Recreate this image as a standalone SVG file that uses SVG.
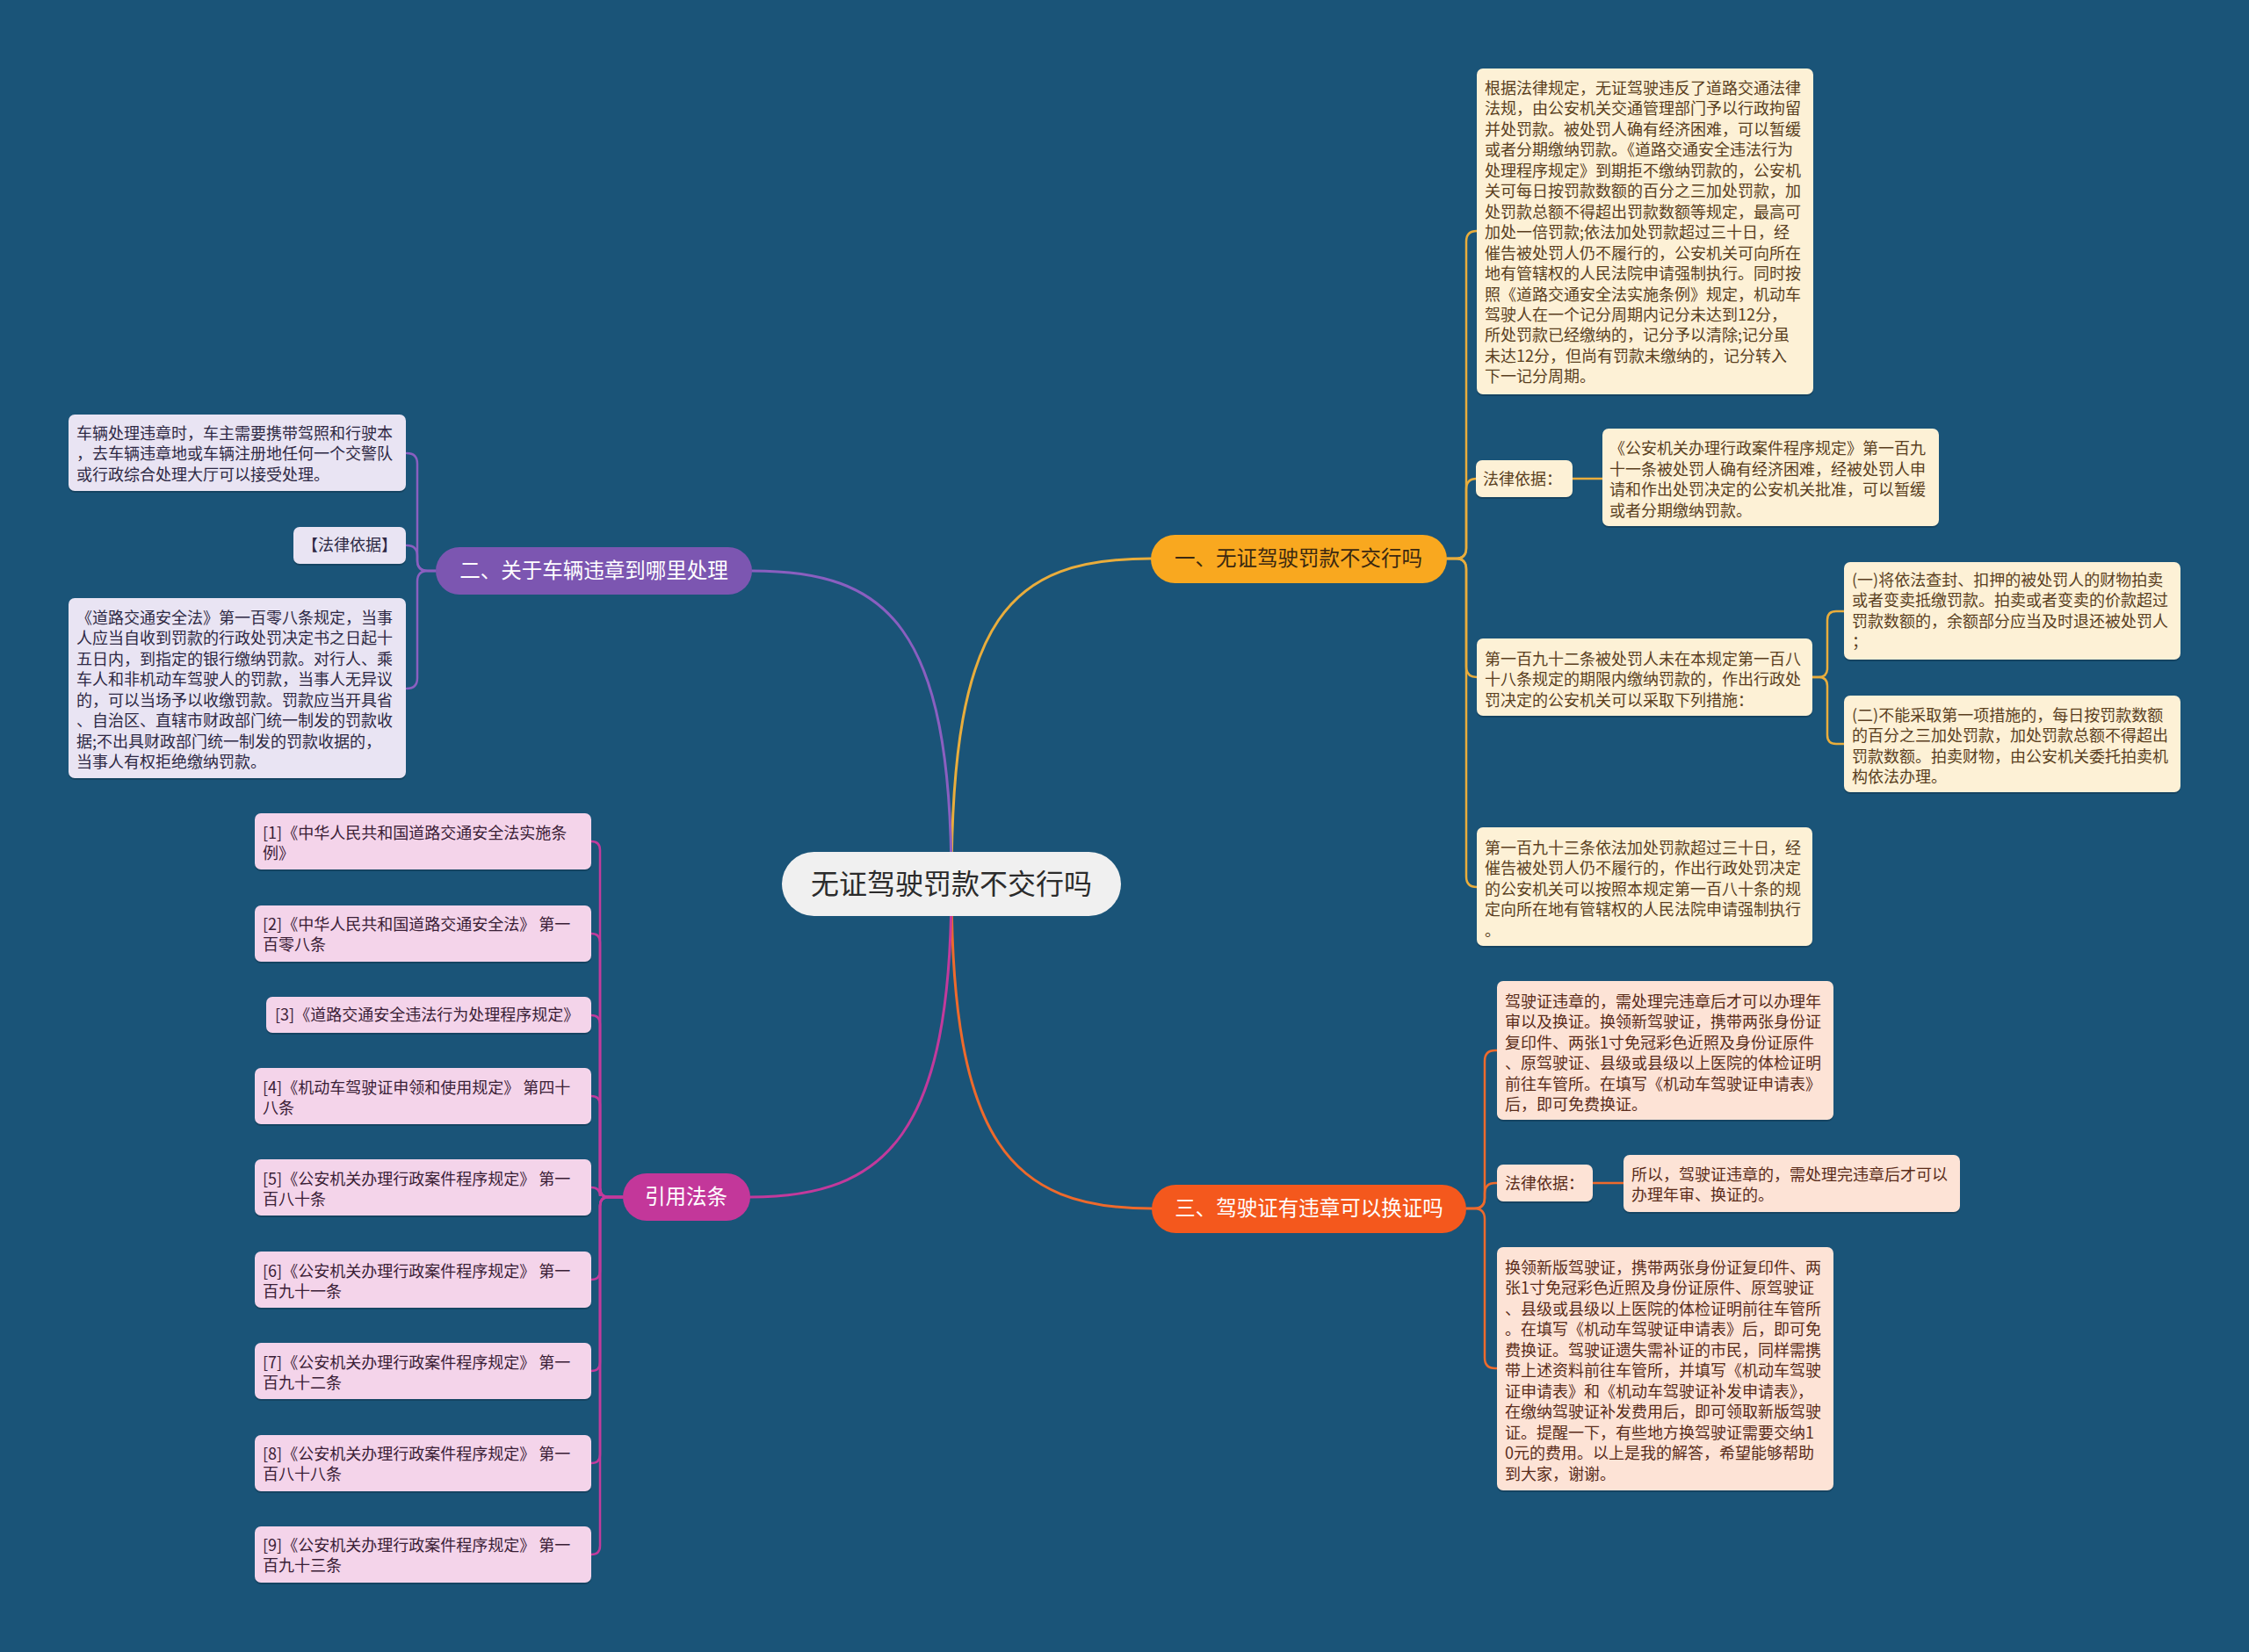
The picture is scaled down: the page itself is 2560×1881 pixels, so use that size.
<svg xmlns="http://www.w3.org/2000/svg" width="2560" height="1881" viewBox="0 0 2560 1881">
<defs>
<style>
text{font-family:"Noto Sans CJK SC","Noto Sans",sans-serif;}
.bg{fill:#1a5478;}
.c{fill:none;stroke-linecap:round;}
.c1{stroke:#e9ad3c;}
.c2{stroke:#8a5fc0;}
.c3{stroke:#ee6a2c;}
.c4{stroke:#c23a9c;}
.main{stroke-width:3;}
.sub{stroke-width:2.5;}
.shadow{fill:#000;opacity:0.18;}
.l1{fill:#fdf1d6;}
.l2{fill:#e9e4f3;}
.l3{fill:#fde3d6;}
.l4{fill:#f4d4ea;}
.t{font-size:18px;}
.t1{fill:#5a3f1e;}
.t2{fill:#2e2944;}
.t3{fill:#5a2c1a;}
.t4{fill:#3a2036;}
.bt{font-size:23.5px;text-anchor:middle;}
</style>
</defs>
<rect class="bg" x="0" y="0" width="2560" height="1881"/>

<g id="connectors">
<path class="c c1 main" d="M1083,1006 C1083,700 1150,636 1310,636"/>
<path class="c c2 main" d="M1083,1006 C1083,712 1010,650 856,650"/>
<path class="c c3 main" d="M1083,1006 C1083,1300 1150,1376 1311,1376"/>
<path class="c c4 main" d="M1083,1006 C1083,1290 1010,1363 854,1363"/>

<path class="c c1 sub" d="M1647,636 H1657 Q1669,636 1669,624 V275 Q1669,263 1681,263"/>
<path class="c c1 sub" d="M1647,636 H1657 Q1669,636 1669,624 V557 Q1669,545 1681,545"/>
<path class="c c1 sub" d="M1647,636 H1657 Q1669,636 1669,648 V759 Q1669,771 1681,771"/>
<path class="c c1 sub" d="M1647,636 H1657 Q1669,636 1669,648 V998 Q1669,1010 1681,1010"/>
<path class="c c1 sub" d="M1790,545 H1824"/>
<path class="c c1 sub" d="M2063,771 H2070 Q2080,771 2080,761 V706 Q2080,696 2090,696 H2099"/>
<path class="c c1 sub" d="M2063,771 H2070 Q2080,771 2080,781 V837 Q2080,847 2090,847 H2099"/>

<path class="c c2 sub" d="M496,650 H487 Q475,650 475,638 V528 Q475,516 463,516"/>
<path class="c c2 sub" d="M496,650 H487 Q475,650 475,638 V633 Q475,621 463,621"/>
<path class="c c2 sub" d="M496,650 H487 Q475,650 475,662 V772 Q475,784 463,784"/>

<path class="c c3 sub" d="M1669,1376 H1678 Q1690,1376 1690,1364 V1208 Q1690,1196 1702,1196 H1704"/>
<path class="c c3 sub" d="M1669,1376 H1678 Q1690,1376 1690,1364 V1359 Q1690,1347 1702,1347 H1704"/>
<path class="c c3 sub" d="M1669,1376 H1678 Q1690,1376 1690,1388 V1546 Q1690,1558 1702,1558 H1704"/>
<path class="c c3 sub" d="M1813,1347 H1848"/>

<path class="c c4 sub" d="M709,1363 H693 Q683,1363 683,1353 V968 Q683,958 673,958"/>
<path class="c c4 sub" d="M709,1363 H693 Q683,1363 683,1353 V1073 Q683,1063 673,1063"/>
<path class="c c4 sub" d="M709,1363 H693 Q683,1363 683,1353 V1166 Q683,1156 673,1156"/>
<path class="c c4 sub" d="M709,1363 H693 Q683,1363 683,1353 V1258 Q683,1248 673,1248"/>
<path class="c c4 sub" d="M709,1363 H693 Q683,1363 683,1353 V1362 Q683,1352 673,1352"/>
<path class="c c4 sub" d="M709,1363 H693 Q683,1363 683,1373 V1447 Q683,1457 673,1457"/>
<path class="c c4 sub" d="M709,1363 H693 Q683,1363 683,1373 V1551 Q683,1561 673,1561"/>
<path class="c c4 sub" d="M709,1363 H693 Q683,1363 683,1373 V1656 Q683,1666 673,1666"/>
<path class="c c4 sub" d="M709,1363 H693 Q683,1363 683,1373 V1760 Q683,1770 673,1770"/>
</g>

<g id="center">
<rect x="890" y="970" width="386" height="73" rx="36.5" fill="#f0f0f0"/>
<text x="1083" y="1018" font-size="32" text-anchor="middle" fill="#2b2b2b">无证驾驶罚款不交行吗</text>
</g>

<g id="branch1">
<rect x="1310" y="609" width="337" height="55" rx="27.5" fill="#f9a81f"/>
<text class="bt" x="1478" y="644" fill="#3b2810">一、无证驾驶罚款不交行吗</text>
</g>
<g id="branch2">
<rect x="496" y="623" width="360" height="54" rx="27" fill="#7c56b1"/>
<text class="bt" x="676" y="658" fill="#ffffff">二、关于车辆违章到哪里处理</text>
</g>
<g id="branch3">
<rect x="1311" y="1349" width="358" height="55" rx="27.5" fill="#f4581d"/>
<text class="bt" x="1490" y="1384" fill="#ffffff">三、驾驶证有违章可以换证吗</text>
</g>
<g id="branch4">
<rect x="709" y="1336" width="145" height="54" rx="27" fill="#c3379a"/>
<text class="bt" x="781" y="1371" fill="#ffffff">引用法条</text>
</g>

<g id="b1-leaf1">
<rect class="shadow" x="1681" y="80" width="383" height="371" rx="7"/>
<rect class="l1" x="1681" y="78" width="383" height="371" rx="7"/>
<text class="t t1" x="1690" y="107">
<tspan x="1690" dy="0">根据法律规定，无证驾驶违反了道路交通法律</tspan>
<tspan x="1690" dy="23.45">法规，由公安机关交通管理部门予以行政拘留</tspan>
<tspan x="1690" dy="23.45">并处罚款。被处罚人确有经济困难，可以暂缓</tspan>
<tspan x="1690" dy="23.45">或者分期缴纳罚款。《道路交通安全违法行为</tspan>
<tspan x="1690" dy="23.45">处理程序规定》到期拒不缴纳罚款的，公安机</tspan>
<tspan x="1690" dy="23.45">关可每日按罚款数额的百分之三加处罚款，加</tspan>
<tspan x="1690" dy="23.45">处罚款总额不得超出罚款数额等规定，最高可</tspan>
<tspan x="1690" dy="23.45">加处一倍罚款;依法加处罚款超过三十日，经</tspan>
<tspan x="1690" dy="23.45">催告被处罚人仍不履行的，公安机关可向所在</tspan>
<tspan x="1690" dy="23.45">地有管辖权的人民法院申请强制执行。同时按</tspan>
<tspan x="1690" dy="23.45">照《道路交通安全法实施条例》规定，机动车</tspan>
<tspan x="1690" dy="23.45">驾驶人在一个记分周期内记分未达到12分，</tspan>
<tspan x="1690" dy="23.45">所处罚款已经缴纳的，记分予以清除;记分虽</tspan>
<tspan x="1690" dy="23.45">未达12分，但尚有罚款未缴纳的，记分转入</tspan>
<tspan x="1690" dy="23.45">下一记分周期。</tspan>
</text>
</g>

<g id="b1-law">
<rect class="shadow" x="1680" y="526" width="110" height="42" rx="7"/>
<rect class="l1" x="1680" y="524" width="110" height="42" rx="7"/>
<text class="t t1" x="1688" y="552">法律依据：</text>
</g>
<g id="b1-law-text">
<rect class="shadow" x="1824" y="490" width="383" height="111" rx="7"/>
<rect class="l1" x="1824" y="488" width="383" height="111" rx="7"/>
<text class="t t1" x="1832" y="517">
<tspan x="1832" dy="0">《公安机关办理行政案件程序规定》第一百九</tspan>
<tspan x="1832" dy="23.6">十一条被处罚人确有经济困难，经被处罚人申</tspan>
<tspan x="1832" dy="23.6">请和作出处罚决定的公安机关批准，可以暂缓</tspan>
<tspan x="1832" dy="23.6">或者分期缴纳罚款。</tspan>
</text>
</g>

<g id="b1-192">
<rect class="shadow" x="1681" y="729" width="382" height="88" rx="7"/>
<rect class="l1" x="1681" y="727" width="382" height="88" rx="7"/>
<text class="t t1" x="1690" y="757">
<tspan x="1690" dy="0">第一百九十二条被处罚人未在本规定第一百八</tspan>
<tspan x="1690" dy="23.45">十八条规定的期限内缴纳罚款的，作出行政处</tspan>
<tspan x="1690" dy="23.45">罚决定的公安机关可以采取下列措施：</tspan>
</text>
</g>
<g id="b1-192-1">
<rect class="shadow" x="2099" y="642" width="383" height="111" rx="7"/>
<rect class="l1" x="2099" y="640" width="383" height="111" rx="7"/>
<text class="t t1" x="2108" y="667">
<tspan x="2108" dy="0">(一)将依法查封、扣押的被处罚人的财物拍卖</tspan>
<tspan x="2108" dy="23.45">或者变卖抵缴罚款。拍卖或者变卖的价款超过</tspan>
<tspan x="2108" dy="23.45">罚款数额的，余额部分应当及时退还被处罚人</tspan>
<tspan x="2108" dy="23.45">；</tspan>
</text>
</g>
<g id="b1-192-2">
<rect class="shadow" x="2099" y="794" width="383" height="110" rx="7"/>
<rect class="l1" x="2099" y="792" width="383" height="110" rx="7"/>
<text class="t t1" x="2108" y="821">
<tspan x="2108" dy="0">(二)不能采取第一项措施的，每日按罚款数额</tspan>
<tspan x="2108" dy="23.45">的百分之三加处罚款，加处罚款总额不得超出</tspan>
<tspan x="2108" dy="23.45">罚款数额。拍卖财物，由公安机关委托拍卖机</tspan>
<tspan x="2108" dy="23.45">构依法办理。</tspan>
</text>
</g>
<g id="b1-193">
<rect class="shadow" x="1681" y="944" width="382" height="135" rx="7"/>
<rect class="l1" x="1681" y="942" width="382" height="135" rx="7"/>
<text class="t t1" x="1690" y="972">
<tspan x="1690" dy="0">第一百九十三条依法加处罚款超过三十日，经</tspan>
<tspan x="1690" dy="23.45">催告被处罚人仍不履行的，作出行政处罚决定</tspan>
<tspan x="1690" dy="23.45">的公安机关可以按照本规定第一百八十条的规</tspan>
<tspan x="1690" dy="23.45">定向所在地有管辖权的人民法院申请强制执行</tspan>
<tspan x="1690" dy="23.45">。</tspan>
</text>
</g>

<g id="b2-leaf1">
<rect class="shadow" x="78" y="474" width="384" height="87" rx="7"/>
<rect class="l2" x="78" y="472" width="384" height="87" rx="7"/>
<text class="t t2" x="87" y="500">
<tspan x="87" dy="0">车辆处理违章时，车主需要携带驾照和行驶本</tspan>
<tspan x="87" dy="23.45">，去车辆违章地或车辆注册地任何一个交警队</tspan>
<tspan x="87" dy="23.45">或行政综合处理大厅可以接受处理。</tspan>
</text>
</g>
<g id="b2-law">
<rect class="shadow" x="334" y="602" width="128" height="42" rx="7"/>
<rect class="l2" x="334" y="600" width="128" height="42" rx="7"/>
<text class="t t2" x="398" y="627" text-anchor="middle">【法律依据】</text>
</g>
<g id="b2-leaf3">
<rect class="shadow" x="78" y="683" width="384" height="205" rx="7"/>
<rect class="l2" x="78" y="681" width="384" height="205" rx="7"/>
<text class="t t2" x="87" y="710">
<tspan x="87" dy="0">《道路交通安全法》第一百零八条规定，当事</tspan>
<tspan x="87" dy="23.45">人应当自收到罚款的行政处罚决定书之日起十</tspan>
<tspan x="87" dy="23.45">五日内，到指定的银行缴纳罚款。对行人、乘</tspan>
<tspan x="87" dy="23.45">车人和非机动车驾驶人的罚款，当事人无异议</tspan>
<tspan x="87" dy="23.45">的，可以当场予以收缴罚款。罚款应当开具省</tspan>
<tspan x="87" dy="23.45">、自治区、直辖市财政部门统一制发的罚款收</tspan>
<tspan x="87" dy="23.45">据;不出具财政部门统一制发的罚款收据的，</tspan>
<tspan x="87" dy="23.45">当事人有权拒绝缴纳罚款。</tspan>
</text>
</g>

<g id="b3-leaf1">
<rect class="shadow" x="1704" y="1119" width="383" height="158" rx="7"/>
<rect class="l3" x="1704" y="1117" width="383" height="158" rx="7"/>
<text class="t t3" x="1713" y="1147">
<tspan x="1713" dy="0">驾驶证违章的，需处理完违章后才可以办理年</tspan>
<tspan x="1713" dy="23.45">审以及换证。换领新驾驶证，携带两张身份证</tspan>
<tspan x="1713" dy="23.45">复印件、两张1寸免冠彩色近照及身份证原件</tspan>
<tspan x="1713" dy="23.45">、原驾驶证、县级或县级以上医院的体检证明</tspan>
<tspan x="1713" dy="23.45">前往车管所。在填写《机动车驾驶证申请表》</tspan>
<tspan x="1713" dy="23.45">后，即可免费换证。</tspan>
</text>
</g>
<g id="b3-law">
<rect class="shadow" x="1704" y="1328" width="109" height="42" rx="7"/>
<rect class="l3" x="1704" y="1326" width="109" height="42" rx="7"/>
<text class="t t3" x="1713" y="1354">法律依据：</text>
</g>
<g id="b3-law-text">
<rect class="shadow" x="1848" y="1317" width="383" height="65" rx="7"/>
<rect class="l3" x="1848" y="1315" width="383" height="65" rx="7"/>
<text class="t t3" x="1857" y="1344">
<tspan x="1857" dy="0">所以，驾驶证违章的，需处理完违章后才可以</tspan>
<tspan x="1857" dy="23.45">办理年审、换证的。</tspan>
</text>
</g>
<g id="b3-leaf3">
<rect class="shadow" x="1704" y="1422" width="383" height="277" rx="7"/>
<rect class="l3" x="1704" y="1420" width="383" height="277" rx="7"/>
<text class="t t3" x="1713" y="1450">
<tspan x="1713" dy="0">换领新版驾驶证，携带两张身份证复印件、两</tspan>
<tspan x="1713" dy="23.45">张1寸免冠彩色近照及身份证原件、原驾驶证</tspan>
<tspan x="1713" dy="23.45">、县级或县级以上医院的体检证明前往车管所</tspan>
<tspan x="1713" dy="23.45">。在填写《机动车驾驶证申请表》后，即可免</tspan>
<tspan x="1713" dy="23.45">费换证。驾驶证遗失需补证的市民，同样需携</tspan>
<tspan x="1713" dy="23.45">带上述资料前往车管所，并填写《机动车驾驶</tspan>
<tspan x="1713" dy="23.45">证申请表》和《机动车驾驶证补发申请表》，</tspan>
<tspan x="1713" dy="23.45">在缴纳驾驶证补发费用后，即可领取新版驾驶</tspan>
<tspan x="1713" dy="23.45">证。提醒一下，有些地方换驾驶证需要交纳1</tspan>
<tspan x="1713" dy="23.45">0元的费用。以上是我的解答，希望能够帮助</tspan>
<tspan x="1713" dy="23.45">到大家，谢谢。</tspan>
</text>
</g>

<g id="cite1">
<rect class="shadow" x="290" y="928" width="383" height="64" rx="7"/>
<rect class="l4" x="290" y="926" width="383" height="64" rx="7"/>
<text class="t t4" x="299" y="955"><tspan x="299" dy="0">[1]《中华人民共和国道路交通安全法实施条</tspan><tspan x="299" dy="23.45">例》</tspan></text>
</g>
<g id="cite2">
<rect class="shadow" x="290" y="1033" width="383" height="64" rx="7"/>
<rect class="l4" x="290" y="1031" width="383" height="64" rx="7"/>
<text class="t t4" x="299" y="1059"><tspan x="299" dy="0">[2]《中华人民共和国道路交通安全法》 第一</tspan><tspan x="299" dy="23.45">百零八条</tspan></text>
</g>
<g id="cite3">
<rect class="shadow" x="303" y="1137" width="370" height="41" rx="7"/>
<rect class="l4" x="303" y="1135" width="370" height="41" rx="7"/>
<text class="t t4" x="313" y="1162">[3]《道路交通安全违法行为处理程序规定》</text>
</g>
<g id="cite4">
<rect class="shadow" x="290" y="1218" width="383" height="64" rx="7"/>
<rect class="l4" x="290" y="1216" width="383" height="64" rx="7"/>
<text class="t t4" x="299" y="1245"><tspan x="299" dy="0">[4]《机动车驾驶证申领和使用规定》 第四十</tspan><tspan x="299" dy="23.45">八条</tspan></text>
</g>
<g id="cite5">
<rect class="shadow" x="290" y="1322" width="383" height="64" rx="7"/>
<rect class="l4" x="290" y="1320" width="383" height="64" rx="7"/>
<text class="t t4" x="299" y="1349"><tspan x="299" dy="0">[5]《公安机关办理行政案件程序规定》 第一</tspan><tspan x="299" dy="23.45">百八十条</tspan></text>
</g>
<g id="cite6">
<rect class="shadow" x="290" y="1427" width="383" height="64" rx="7"/>
<rect class="l4" x="290" y="1425" width="383" height="64" rx="7"/>
<text class="t t4" x="299" y="1454"><tspan x="299" dy="0">[6]《公安机关办理行政案件程序规定》 第一</tspan><tspan x="299" dy="23.45">百九十一条</tspan></text>
</g>
<g id="cite7">
<rect class="shadow" x="290" y="1531" width="383" height="64" rx="7"/>
<rect class="l4" x="290" y="1529" width="383" height="64" rx="7"/>
<text class="t t4" x="299" y="1558"><tspan x="299" dy="0">[7]《公安机关办理行政案件程序规定》 第一</tspan><tspan x="299" dy="23.45">百九十二条</tspan></text>
</g>
<g id="cite8">
<rect class="shadow" x="290" y="1636" width="383" height="64" rx="7"/>
<rect class="l4" x="290" y="1634" width="383" height="64" rx="7"/>
<text class="t t4" x="299" y="1662"><tspan x="299" dy="0">[8]《公安机关办理行政案件程序规定》 第一</tspan><tspan x="299" dy="23.45">百八十八条</tspan></text>
</g>
<g id="cite9">
<rect class="shadow" x="290" y="1740" width="383" height="64" rx="7"/>
<rect class="l4" x="290" y="1738" width="383" height="64" rx="7"/>
<text class="t t4" x="299" y="1766"><tspan x="299" dy="0">[9]《公安机关办理行政案件程序规定》 第一</tspan><tspan x="299" dy="23.45">百九十三条</tspan></text>
</g>
</svg>
